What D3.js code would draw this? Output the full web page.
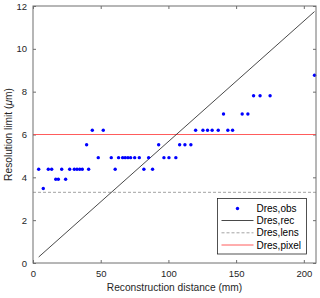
<!DOCTYPE html>
<html>
<head>
<meta charset="utf-8">
<script src="https://cdn.jsdelivr.net/npm/d3@7"></script>
<style>
  body { margin: 0; background: #fff; }
  svg { font-family: "Liberation Sans", Arial, sans-serif; }
</style>
</head>
<body>
<div id="chart"></div>
<script>
// observed resolution vs reconstruction distance
const obsX = [4.2, 7.6, 11.3, 13.8, 16.8, 18.7, 21.2, 24.1, 27.1, 30.5, 32.5, 34.5, 36.4,
  39.6, 41.1, 43.8, 48.2, 51.9, 57.8, 60.7, 63.2, 66.2, 68.1, 70.1, 72.1, 75.1, 78.5,
  81.9, 85.4, 88.3, 92.8, 96.7, 100.4, 105.5, 108.3, 112.2, 116.6, 120.1, 125.5, 128.9,
  132.3, 136.8, 140.7, 143.9, 147.4, 154.5, 158.7, 162.9, 167.7, 175.1, 207.9];
const obsY = [4.38, 3.48, 4.38, 4.38, 3.91, 3.91, 4.38, 3.91, 4.38, 4.38, 4.38, 4.38, 4.38,
  5.52, 4.38, 6.20, 4.92, 6.20, 4.92, 4.38, 4.92, 4.92, 4.92, 4.92, 4.92, 4.92, 4.92,
  4.38, 4.92, 4.38, 5.52, 4.92, 4.92, 4.92, 5.52, 5.52, 5.52, 6.20, 6.20, 6.20,
  6.20, 6.20, 6.96, 6.20, 6.20, 6.96, 6.96, 7.81, 7.81, 7.81, 8.77];

// reconstruction limit (line ends)
const recX = [4.2, 207.9];
const recY = [0.28, 11.74];

const lensRes = 3.3;
const pixelRes = 6.0;

const xTicks = [0, 50, 100, 150, 200];
const yTicks = [0, 2, 4, 6, 8, 10, 12];
const legendLabels = ["Dres,obs", "Dres,rec", "Dres,lens", "Dres,pixel"];

const width = 320, height = 298;
const margin = { top: 6, left: 33, bottom: 35, right: 4 };
const iwidth = width - margin.left - margin.right;
const iheight = height - margin.top - margin.bottom;

const svg = d3.select("#chart").append("svg")
  .attr("width", width)
  .attr("height", height);

const x = d3.scaleLinear().domain([0, 209]).range([0, iwidth]);
const y = d3.scaleLinear().domain([0, 12]).range([iheight, 0]);

const g = svg.append("g").attr("transform", `translate(${margin.left},${margin.top})`);

const axisColor = "#6e6e6e";
const textColor = "#262626";

function styleAxis(sel) {
  sel.select(".domain").remove();
  sel.selectAll(".tick line").attr("stroke", axisColor);
  sel.selectAll(".tick text").attr("fill", textColor).style("font-size", "9.5px");
}

g.append("g")
  .attr("transform", `translate(0,${iheight})`)
  .call(d3.axisBottom(x).tickValues(xTicks).tickSize(-3).tickPadding(7))
  .call(styleAxis);
g.append("g")
  .call(d3.axisTop(x).tickValues(xTicks).tickSize(-3).tickFormat(""))
  .call(styleAxis);
g.append("g")
  .call(d3.axisLeft(y).tickValues(yTicks).tickSize(-3).tickPadding(6))
  .call(styleAxis);
g.append("g")
  .attr("transform", `translate(${iwidth},0)`)
  .call(d3.axisRight(y).tickValues(yTicks).tickSize(-3).tickFormat(""))
  .call(styleAxis);

// plot area clip
svg.append("clipPath").attr("id", "clip")
  .append("rect").attr("width", iwidth).attr("height", iheight);
const plot = g.append("g").attr("clip-path", "url(#clip)");

plot.append("line")
  .attr("x1", 0).attr("x2", iwidth)
  .attr("y1", y(lensRes)).attr("y2", y(lensRes))
  .attr("stroke", "#8c8c8c").attr("stroke-width", 0.8)
  .attr("stroke-dasharray", "3,2");

plot.append("line")
  .attr("x1", 0).attr("x2", iwidth)
  .attr("y1", y(pixelRes)).attr("y2", y(pixelRes))
  .attr("stroke", "#ff4a4a").attr("stroke-width", 0.9);

plot.append("path")
  .datum(recX.map((d, i) => [d, recY[i]]))
  .attr("fill", "none")
  .attr("stroke", "#1a1a1a").attr("stroke-width", 0.8)
  .attr("d", d3.line().x(d => x(d[0])).y(d => y(d[1])));

g.append("g").selectAll("circle")
  .data(obsX.map((d, i) => [d, obsY[i]]))
  .enter().append("circle")
  .attr("cx", d => x(d[0]))
  .attr("cy", d => y(d[1]))
  .attr("r", 1.7)
  .attr("fill", "#0000ff");

// box
g.append("rect")
  .attr("width", iwidth).attr("height", iheight)
  .attr("fill", "none").attr("stroke", axisColor).attr("stroke-width", 1);

// axis labels
g.append("text")
  .attr("x", iwidth / 2).attr("y", iheight + 28)
  .attr("text-anchor", "middle")
  .attr("fill", textColor)
  .style("font-size", "10.2px")
  .text("Reconstruction distance (mm)");

const yl = g.append("text")
  .attr("transform", `translate(-21,${iheight / 2}) rotate(-90)`)
  .attr("text-anchor", "middle")
  .attr("fill", textColor)
  .style("font-size", "10.2px");
yl.append("tspan").text("Resolution limit (");
yl.append("tspan").style("font-style", "italic").text("μ");
yl.append("tspan").text("m)");

// legend
const lg = svg.append("g").attr("transform", "translate(217.5,198.5)");
lg.append("rect")
  .attr("width", 89).attr("height", 55.5)
  .attr("fill", "#fff").attr("stroke", "#262626").attr("stroke-width", 0.8);

const rowY = [10, 22, 34.3, 46.5];
legendLabels.forEach((lab, i) => {
  const row = lg.append("g").attr("transform", `translate(0,${rowY[i]})`);
  if (i === 0) {
    row.append("circle").attr("cx", 20).attr("cy", 0).attr("r", 1.7).attr("fill", "#0000ff");
  } else {
    const line = row.append("line").attr("x1", 4).attr("x2", 36).attr("y1", 0).attr("y2", 0);
    if (i === 1) line.attr("stroke", "#1a1a1a").attr("stroke-width", 0.8);
    if (i === 2) line.attr("stroke", "#8c8c8c").attr("stroke-width", 0.8).attr("stroke-dasharray", "3,2");
    if (i === 3) line.attr("stroke", "#ff4a4a").attr("stroke-width", 0.9);
  }
  row.append("text")
    .attr("x", 39).attr("y", 3.5)
    .attr("fill", "#000")
    .style("font-size", "10px")
    .text(lab);
});
</script>
</body>
</html>
